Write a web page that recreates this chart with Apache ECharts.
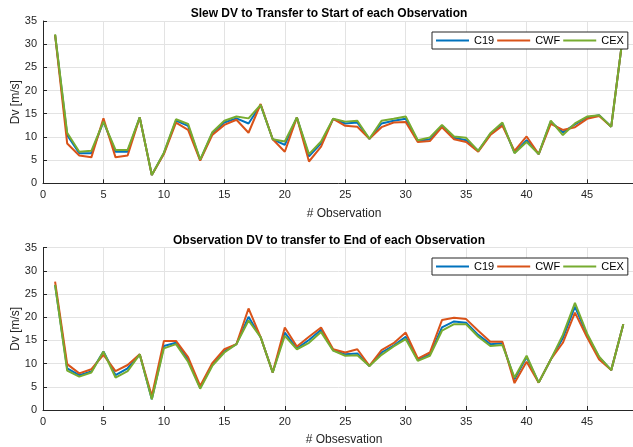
<!DOCTYPE html>
<html>
<head>
<meta charset="utf-8">
<script src="https://cdn.jsdelivr.net/npm/echarts@6/dist/echarts.min.js"></script>
<style>
  html, body { margin: 0; padding: 0; background: #fff; }
  #viz { width: 633px; height: 447px; }
</style>
</head>
<body>
<div id="viz"></div>
<script>
// observation numbers (x axis)
var obs = [1,2,3,4,5,6,7,8,9,10,11,12,13,14,15,16,17,18,19,20,21,22,23,24,
           25,26,27,28,29,30,31,32,33,34,35,36,37,38,39,40,41,42,43,44,45,46,47,48];

var seriesNames = ['C19', 'CWF', 'CEX'];

// Slew DV to Transfer to Start of each Observation
var slewC19 = [32,10.4,6.5,6.5,13.3,6.8,6.8,14.2,1.8,6.5,13.5,12.4,5.0,10.8,13.1,14.0,12.9,16.9,9.5,8.3,14.2,5.8,8.6,13.9,
               12.9,13.1,9.6,12.9,13.5,13.9,9.1,9.5,12.4,9.8,9.3,7.0,10.6,12.8,6.6,9.3,6.3,13.3,11.0,12.7,14.2,14.7,12.2,32.5];
var slewCWF = [32,8.6,6.0,5.6,14.0,5.6,6.0,14.2,1.8,6.3,13.1,11.5,4.9,10.4,12.6,13.7,10.9,17.1,9.5,6.8,14.2,4.7,7.9,13.9,
               12.4,12.2,9.6,12.1,13.1,13.2,8.9,9.1,12.1,9.5,8.9,6.8,10.4,12.4,7.0,10.1,6.3,12.8,11.5,12.1,13.9,14.5,12.2,32.5];
var slewCEX = [32.1,10.9,6.8,7.0,13.3,7.2,7.2,14.2,1.8,6.6,13.8,12.8,5.1,11.0,13.5,14.4,14.0,16.9,9.5,9.0,14.2,6.3,9.0,13.9,
               13.3,13.5,9.6,13.5,13.9,14.4,9.3,9.9,12.6,10.1,9.8,7.0,10.8,13.1,6.5,8.9,6.3,13.5,10.4,12.9,14.4,14.7,12.2,32.5];

// Observation DV to transfer to End of each Observation
var obsC19 = [27.0,9.0,7.5,8.3,12.6,7.5,9.0,12.0,2.3,13.8,14.5,10.9,4.8,9.8,12.7,14.2,20.1,15.7,8.1,16.7,13.3,15.1,17.3,12.9,
              12.0,12.2,9.5,12.4,13.9,15.8,10.8,12.0,17.8,19.1,18.8,16.2,14.2,14.4,6.6,11.4,5.9,10.9,15.5,22.3,16.2,11.4,8.6,18.5];
var obsCWF = [27.7,9.9,7.9,8.8,11.9,8.4,9.7,12.0,3.0,14.9,14.9,11.4,5.2,10.1,13.1,14.2,21.9,15.7,8.1,17.8,13.7,15.8,17.8,13.1,
              12.4,13.1,9.5,12.9,14.4,16.7,11.1,12.4,19.4,19.9,19.6,17.1,14.7,14.7,5.8,10.4,5.9,10.9,14.5,21.0,15.7,10.9,8.6,18.5];
var obsCEX = [27.0,8.5,7.2,8.1,12.6,7.0,8.4,12.0,2.3,13.3,14.2,10.4,4.6,9.5,12.4,14.2,19.3,15.7,8.1,16.0,13.1,14.5,16.8,12.8,
              11.7,11.8,9.5,11.9,13.7,15.3,10.6,11.7,17.1,18.5,18.5,15.8,13.8,14.0,7.0,11.7,5.9,10.9,16.2,23.1,16.5,11.5,8.6,18.5];

var colors = ['#0072BD', '#D95319', '#77AC30'];
var font = 'Liberation Sans, Arial, Helvetica, sans-serif';

function pairs(vals) {
    return vals.map(function (v, i) { return [obs[i], v]; });
}

function makeX(idx) {
    return {
        type: 'value', gridIndex: idx, min: 0, max: 50, interval: 5,
        axisLine: { lineStyle: { color: '#262626', width: 1 } },
        axisTick: { inside: true, length: 4, lineStyle: { color: '#262626' } },
        axisLabel: { color: '#262626', fontSize: 11, fontFamily: font, margin: 6 },
        splitLine: { show: true, lineStyle: { color: '#e3e3e3', width: 1 } }
    };
}

function makeY(idx) {
    return {
        type: 'value', gridIndex: idx, min: 0, max: 35, interval: 5,
        name: 'Dv [m/s]', nameLocation: 'middle', nameGap: 21, nameMoveOverlap: false,
        nameTextStyle: { color: '#262626', fontSize: 12, fontFamily: font },
        axisLine: { show: true, lineStyle: { color: '#262626', width: 1 } },
        axisTick: { show: true, inside: true, length: 4, lineStyle: { color: '#262626' } },
        axisLabel: { color: '#262626', fontSize: 11, fontFamily: font, margin: 6 },
        splitLine: { show: true, lineStyle: { color: '#e3e3e3', width: 1 } }
    };
}

function makeSeries(name, vals, idx, c) {
    return {
        name: name, type: 'line', xAxisIndex: idx, yAxisIndex: idx,
        data: pairs(vals), symbol: 'none', animation: false,
        lineStyle: { color: colors[c], width: 2 },
        itemStyle: { color: colors[c] }
    };
}

function makeLegend(top) {
    return {
        left: 432, top: top, orient: 'horizontal',
        data: seriesNames,
        icon: 'rect',
        itemWidth: 33, itemHeight: 2, itemGap: 3, itemTextGap: 3,
        padding: [3, 4, 3, 4],
        borderColor: '#262626', borderWidth: 1, backgroundColor: '#fff',
        textStyle: { color: '#000', fontSize: 11, fontFamily: font }
    };
}

var myChart = echarts.init(document.getElementById('viz'));
myChart.setOption({
    animation: false,
    title: [
        { text: 'Slew DV to Transfer to Start of each Observation', left: 324, top: 3, textAlign: 'center',
          textStyle: { fontSize: 12, fontWeight: 'bold', color: '#000', fontFamily: font } },
        { text: 'Observation DV to transfer to End of each Observation', left: 324, top: 230, textAlign: 'center',
          textStyle: { fontSize: 12, fontWeight: 'bold', color: '#000', fontFamily: font } },
        { text: '# Observation', left: 339, top: 203, textAlign: 'center',
          textStyle: { fontSize: 12, fontWeight: 'normal', color: '#262626', fontFamily: font } },
        { text: '# Obsesvation', left: 339, top: 429, textAlign: 'center',
          textStyle: { fontSize: 12, fontWeight: 'normal', color: '#262626', fontFamily: font } }
    ],
    grid: [
        { left: 43, top: 21, width: 604.5, height: 162.3, outerBoundsMode: 'none' },
        { left: 43, top: 247.7, width: 604.5, height: 162.3, outerBoundsMode: 'none' }
    ],
    legend: [makeLegend(32), makeLegend(258)],
    xAxis: [makeX(0), makeX(1)],
    yAxis: [makeY(0), makeY(1)],
    series: [
        makeSeries('C19', slewC19, 0, 0),
        makeSeries('CWF', slewCWF, 0, 1),
        makeSeries('CEX', slewCEX, 0, 2),
        makeSeries('C19', obsC19, 1, 0),
        makeSeries('CWF', obsCWF, 1, 1),
        makeSeries('CEX', obsCEX, 1, 2)
    ]
});
</script>
</body>
</html>
